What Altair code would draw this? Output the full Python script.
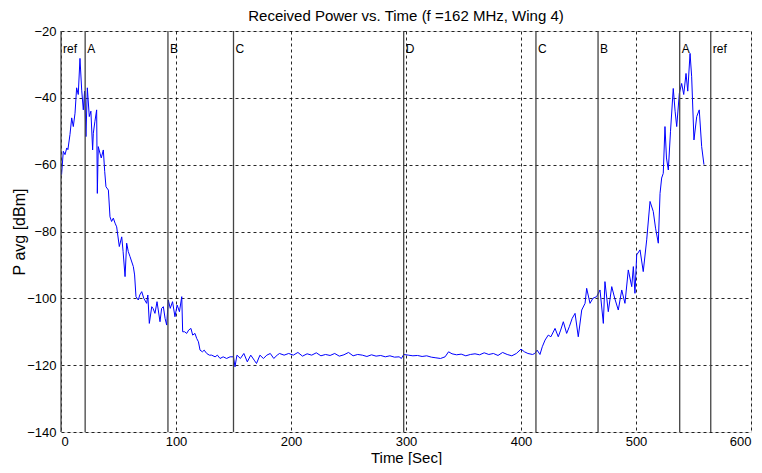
import altair as alt
import pandas as pd

# ---- data ----
time_s = [0.5, 2, 3.5, 5, 6, 7.8, 9.3, 10.7, 12.2, 13.6, 15, 16.5, 18, 19.4, 20.5, 21.7, 22.9, 24.6, 26,
          27.5, 28.1, 29.5, 31, 31.6, 32.4, 33.9, 35, 36.8, 38, 39.1, 41.2, 42.6, 44, 45.5, 47, 48.4, 50.7,
          52.8, 54, 55.7, 57.1, 58.5, 60, 62.9, 64, 65.2, 67.2, 68.5, 70.2, 72, 74.5, 75.5, 76.8, 78.9, 80,
          81.7, 83.5, 86.1, 87.5, 89, 90.5, 91.9, 93.3, 95, 97, 99.1, 101, 103, 105, 105.8, 107.5, 109.3,
          111, 113, 114.5, 116.5, 118, 119.5, 120.9, 123, 124.5, 126.7, 129, 131, 134, 136, 138.3, 141,
          144, 147, 150, 151.3, 153, 156, 159, 162, 165, 168, 170, 173, 176, 179, 182, 185, 188,
          190, 194, 198, 202, 206, 210, 214, 218, 222, 226, 230, 234, 238, 242, 246, 250, 254, 258, 262,
          266, 270, 274, 278, 282, 286, 290, 294, 296, 298, 302, 306, 310, 314, 318, 322, 326, 330, 334,
          337, 340, 344, 348, 352, 356, 360, 364, 368, 372, 376, 380, 384, 388, 392, 396, 400, 403, 406,
          410, 412, 414, 416.5, 418.5, 420.9, 423.7, 426, 429.6, 432.4, 434.5, 436.8, 439.7, 442, 444.5,
          447, 449.8, 452.8, 455.7, 457.1, 460, 462.5, 465.8, 468.7, 471.6, 473, 475.9, 478.9, 481.5,
          484.6, 487.6, 490.4, 493.3, 496.3, 497.7, 499.1, 500.6, 503.5, 506.3, 509.3, 512.2, 515, 517,
          519.4, 520.9, 522.3, 523.7, 525.2, 526.5, 528.1, 530, 532.4, 534, 535.4, 537.7, 539.7, 541.5,
          543.5, 545, 547, 548.4, 550.4, 552.8, 555, 557.1, 559.1]
power_dbm = [-63, -56, -57, -55, -55.5, -51, -46, -48.6, -44.6, -37, -39, -28.2, -37.7, -43.6, -38, -51.6,
             -37, -45.6, -44, -55.6, -50.6, -47, -43.6, -68.6, -54.6, -56.6, -58, -55.6, -62, -66.6,
             -67.6, -75.6, -77, -76, -77.5, -78.6, -84.5, -81.6, -86, -93.5, -83.5, -86, -87.5, -90.5,
             -93, -99.5, -100.5, -99, -98, -100, -101.5, -99, -107.5, -102.5, -103, -104.5, -101, -107,
             -103, -102.5, -106, -108, -100.5, -103, -101, -105.5, -102, -104, -99.5, -110, -110,
             -110.5, -109.5, -109, -111, -110.5, -112, -113, -115.5, -116, -115.5, -116.5, -117, -117,
             -117.5, -117, -118, -117.5, -118, -117.5, -117.5, -120.5, -117, -118, -116.5, -119, -117,
             -118.5, -119.5, -117, -118, -117, -116.5, -118, -117,
             -116.5, -117, -116.5, -117, -116.2, -117.3, -116.6, -117, -116.3, -117.2, -116.8, -117.1,
             -116.5, -117.3, -116.9, -116.2, -117.2, -116.8, -117, -117.4, -116.9, -117.3, -117.1,
             -117.5, -117.2, -117.6, -117.5, -118, -116.8, -117, -117.2, -117.1, -117.4, -117.2, -117.6,
             -117.8, -118, -117.5, -116, -116.6, -116.9, -116.7, -117.2, -116.8, -116.6, -116.9, -116.3,
             -116.8, -116.5, -117.1, -116.2, -116.8, -117.2, -116.5, -115.2, -116, -116.5, -116.8,
             -116.5, -115.5, -116.8, -114.5, -112.5, -111, -111.5, -109, -111.5, -109.5, -107, -110.5,
             -108.5, -106, -104.5, -111.5, -103.5, -101.5, -97, -101.5, -100, -99.5, -97.5, -107.5, -95,
             -104, -96.5, -100, -103.5, -97.5, -101.5, -91.5, -96.5, -90.5, -98.5, -87, -85.5, -92,
             -82.5, -71, -74, -79, -83.5, -68.6, -64, -62.6, -48.6, -58, -61.6, -50, -37.2, -44, -48.6,
             -38.6, -35.7, -39, -32.7, -38, -26.7, -33.7, -52.6, -45.6, -43.6, -54.6, -60]

marker_time = [0, 21, 93, 150, 298, 413, 467, 538, 565]
marker_label = ["ref", "A", "B", "C", "D", "C", "B", "A", "ref"]
label_level = -25.5

x_ticks = [0, 100, 200, 300, 400, 500, 600]
y_ticks = [-140, -120, -100, -80, -60, -40, -20]

df = pd.DataFrame({"t": time_s, "p": power_dbm})
mk = pd.DataFrame({"t": marker_time, "label": marker_label, "y": [label_level] * len(marker_time)})

FONT = "Liberation Sans"

xs = alt.Scale(domain=[0, 600], nice=False, zero=False)
ys = alt.Scale(domain=[-140, -20], nice=False, zero=False)

x_axis = alt.Axis(values=x_ticks, title="Time [Sec]", grid=True, gridDash=[3, 3], gridColor="#000000",
                  gridOpacity=0.85, domain=False, ticks=False, labelFontSize=13, labelFont=FONT,
                  labelColor="#000000", labelPadding=3, titleFont=FONT, titleFontSize=15,
                  titleFontWeight="normal", titleColor="#000000", titleBaseline="alphabetic", titleY=30)
y_axis = alt.Axis(values=y_ticks, title="P avg [dBm]", grid=True, gridDash=[3, 3], gridColor="#000000",
                  gridOpacity=0.85, domain=False, ticks=False, labelFontSize=13, labelFont=FONT,
                  labelColor="#000000", labelPadding=5, titleFont=FONT, titleFontSize=16,
                  titleFontWeight="normal", titleColor="#000000", titleBaseline="alphabetic", titleX=-37)

line = alt.Chart(df).mark_line(color="#0000ff", strokeWidth=1).encode(
    x=alt.X("t:Q", scale=xs, axis=x_axis),
    y=alt.Y("p:Q", scale=ys, axis=y_axis),
)

rules = alt.Chart(mk).mark_rule(color="#444444", strokeWidth=1.3).encode(
    x=alt.X("t:Q", scale=xs)
)

labels = alt.Chart(mk).mark_text(align="left", baseline="middle", dx=2, fontSize=12, font=FONT,
                                 color="#000000").encode(
    x=alt.X("t:Q", scale=xs),
    y=alt.Y("y:Q", scale=ys),
    text="label:N",
)

chart = (
    alt.layer(line, rules, labels)
    .properties(
        width=690,
        height=401,
        title=alt.TitleParams("Received Power vs. Time (f =162 MHz, Wing 4)", font=FONT, fontSize=15,
                              fontWeight="normal", color="#000000", anchor="middle", offset=1),
        autosize=alt.AutoSizeParams(type="none"),
        padding={"left": 53, "top": 23, "right": 3, "bottom": 33},
    )
    .configure_view(stroke="#000000", strokeWidth=1)
    .configure(background="#ffffff")
)

chart.save("out.html", embed_options={"renderer": "svg", "actions": False})
